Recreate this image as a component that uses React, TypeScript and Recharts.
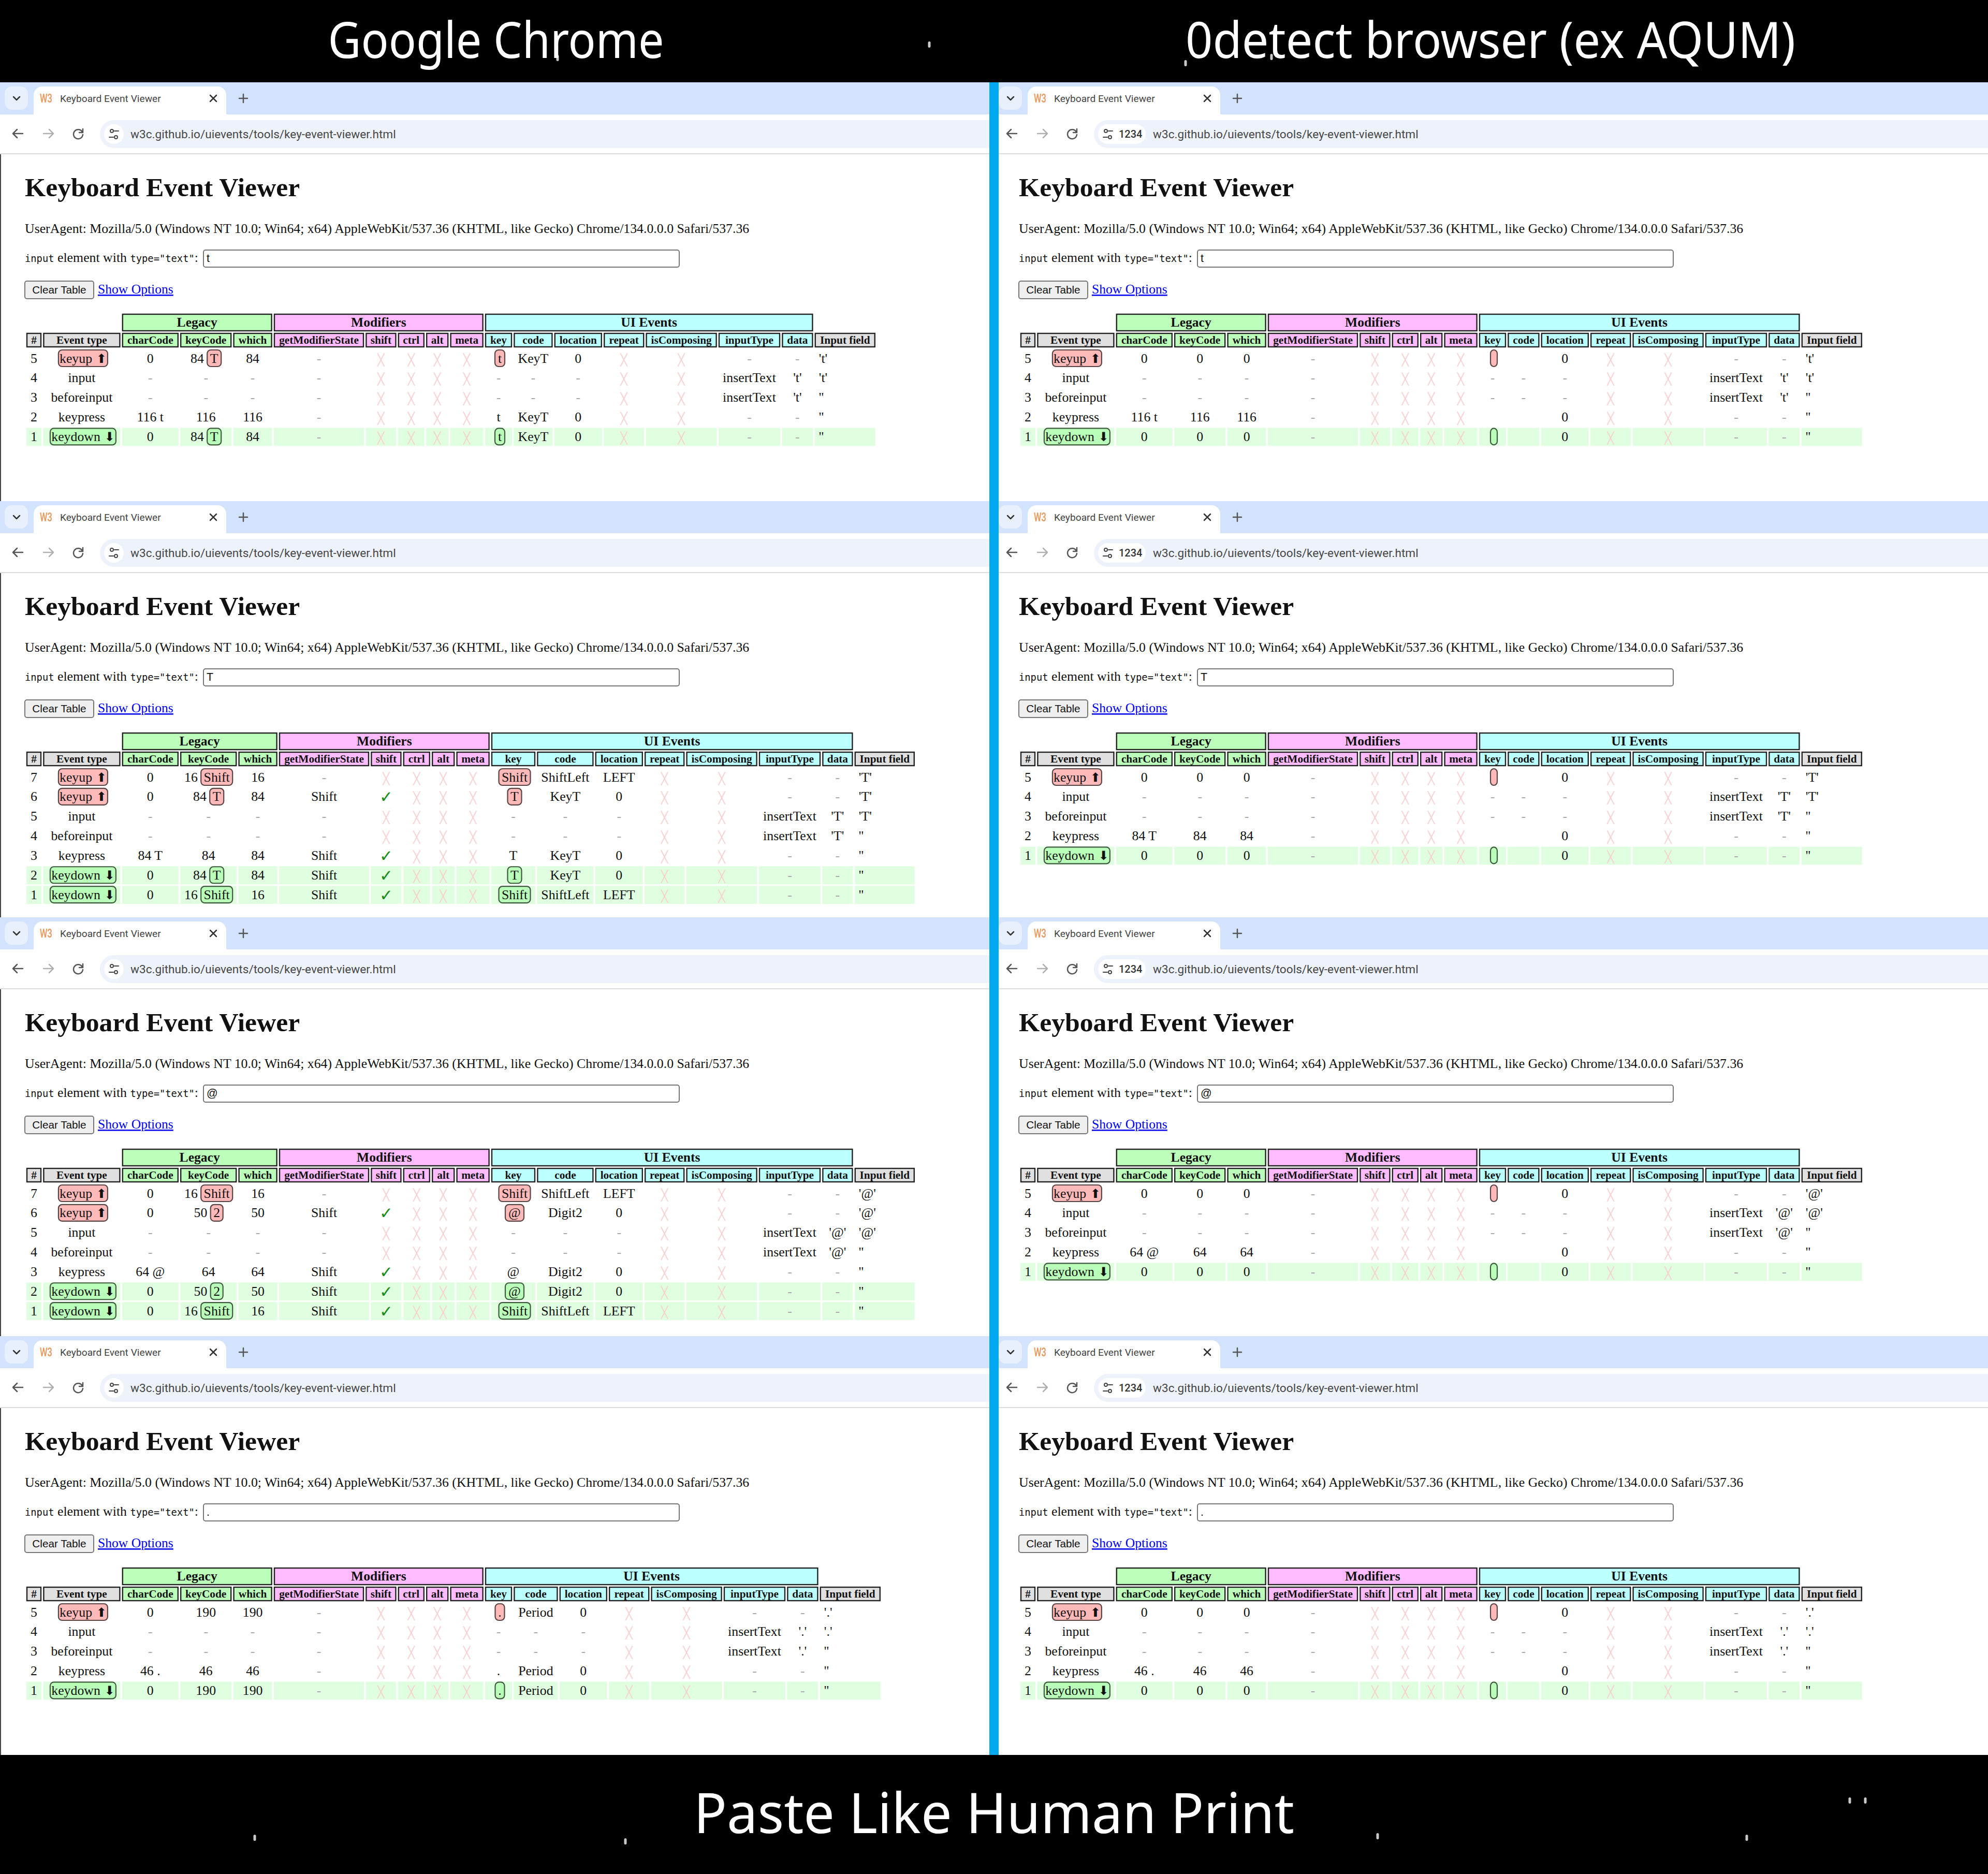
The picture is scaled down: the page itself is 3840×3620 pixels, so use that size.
import React from 'react'
import { ScatterChart, Scatter, XAxis, YAxis } from 'recharts'

// ── Table contents ────────────────────────────────────────────────────────────
// Cells are '|' separated. x = cross, v = tick, [..] = key cap badge.

const groupNames = ['Legacy', 'Modifiers', 'UI Events']
const columnNames = [
  '#', 'Event type', 'charCode', 'keyCode', 'which', 'getModifierState', 'shift', 'ctrl', 'alt', 'meta',
  'key', 'code', 'location', 'repeat', 'isComposing', 'inputType', 'data', 'Input field',
]

const chromeLower = [
  "5|keyup|0|84 [T]|84|-|x|x|x|x|[t]|KeyT|0|x|x|-|-|'t'",
  "4|input|-|-|-|-|x|x|x|x|-|-|-|x|x|insertText|'t'|'t'",
  "3|beforeinput|-|-|-|-|x|x|x|x|-|-|-|x|x|insertText|'t'|''",
  "2|keypress|116 t|116|116|-|x|x|x|x|t|KeyT|0|x|x|-|-|''",
  "1|keydown|0|84 [T]|84|-|x|x|x|x|[t]|KeyT|0|x|x|-|-|''",
]
const chromeUpper = [
  "7|keyup|0|16 [Shift]|16|-|x|x|x|x|[Shift]|ShiftLeft|LEFT|x|x|-|-|'T'",
  "6|keyup|0|84 [T]|84|Shift|v|x|x|x|[T]|KeyT|0|x|x|-|-|'T'",
  "5|input|-|-|-|-|x|x|x|x|-|-|-|x|x|insertText|'T'|'T'",
  "4|beforeinput|-|-|-|-|x|x|x|x|-|-|-|x|x|insertText|'T'|''",
  "3|keypress|84 T|84|84|Shift|v|x|x|x|T|KeyT|0|x|x|-|-|''",
  "2|keydown|0|84 [T]|84|Shift|v|x|x|x|[T]|KeyT|0|x|x|-|-|''",
  "1|keydown|0|16 [Shift]|16|Shift|v|x|x|x|[Shift]|ShiftLeft|LEFT|x|x|-|-|''",
]
const chromeAt = [
  "7|keyup|0|16 [Shift]|16|-|x|x|x|x|[Shift]|ShiftLeft|LEFT|x|x|-|-|'@'",
  "6|keyup|0|50 [2]|50|Shift|v|x|x|x|[@]|Digit2|0|x|x|-|-|'@'",
  "5|input|-|-|-|-|x|x|x|x|-|-|-|x|x|insertText|'@'|'@'",
  "4|beforeinput|-|-|-|-|x|x|x|x|-|-|-|x|x|insertText|'@'|''",
  "3|keypress|64 @|64|64|Shift|v|x|x|x|@|Digit2|0|x|x|-|-|''",
  "2|keydown|0|50 [2]|50|Shift|v|x|x|x|[@]|Digit2|0|x|x|-|-|''",
  "1|keydown|0|16 [Shift]|16|Shift|v|x|x|x|[Shift]|ShiftLeft|LEFT|x|x|-|-|''",
]
const chromePeriod = [
  "5|keyup|0|190|190|-|x|x|x|x|[.]|Period|0|x|x|-|-|'.'",
  "4|input|-|-|-|-|x|x|x|x|-|-|-|x|x|insertText|'.'|'.'",
  "3|beforeinput|-|-|-|-|x|x|x|x|-|-|-|x|x|insertText|'.'|''",
  "2|keypress|46 .|46|46|-|x|x|x|x|.|Period|0|x|x|-|-|''",
  "1|keydown|0|190|190|-|x|x|x|x|[.]|Period|0|x|x|-|-|''",
]
const odetectLower = [
  "5|keyup|0|0|0|-|x|x|x|x|[]||0|x|x|-|-|'t'",
  "4|input|-|-|-|-|x|x|x|x|-|-|-|x|x|insertText|'t'|'t'",
  "3|beforeinput|-|-|-|-|x|x|x|x|-|-|-|x|x|insertText|'t'|''",
  "2|keypress|116 t|116|116|-|x|x|x|x|||0|x|x|-|-|''",
  "1|keydown|0|0|0|-|x|x|x|x|[]||0|x|x|-|-|''",
]
const odetectUpper = [
  "5|keyup|0|0|0|-|x|x|x|x|[]||0|x|x|-|-|'T'",
  "4|input|-|-|-|-|x|x|x|x|-|-|-|x|x|insertText|'T'|'T'",
  "3|beforeinput|-|-|-|-|x|x|x|x|-|-|-|x|x|insertText|'T'|''",
  "2|keypress|84 T|84|84|-|x|x|x|x|||0|x|x|-|-|''",
  "1|keydown|0|0|0|-|x|x|x|x|[]||0|x|x|-|-|''",
]
const odetectAt = [
  "5|keyup|0|0|0|-|x|x|x|x|[]||0|x|x|-|-|'@'",
  "4|input|-|-|-|-|x|x|x|x|-|-|-|x|x|insertText|'@'|'@'",
  "3|beforeinput|-|-|-|-|x|x|x|x|-|-|-|x|x|insertText|'@'|''",
  "2|keypress|64 @|64|64|-|x|x|x|x|||0|x|x|-|-|''",
  "1|keydown|0|0|0|-|x|x|x|x|[]||0|x|x|-|-|''",
]
const odetectPeriod = [
  "5|keyup|0|0|0|-|x|x|x|x|[]||0|x|x|-|-|'.'",
  "4|input|-|-|-|-|x|x|x|x|-|-|-|x|x|insertText|'.'|'.'",
  "3|beforeinput|-|-|-|-|x|x|x|x|-|-|-|x|x|insertText|'.'|''",
  "2|keypress|46 .|46|46|-|x|x|x|x|||0|x|x|-|-|''",
  "1|keydown|0|0|0|-|x|x|x|x|[]||0|x|x|-|-|''",
]

const typedValues = ['t', 'T', '@', '.']
const chromeTables = [chromeLower, chromeUpper, chromeAt, chromePeriod]
const odetectTables = [odetectLower, odetectUpper, odetectAt, odetectPeriod]

const USER_AGENT =
  'UserAgent: Mozilla/5.0 (Windows NT 10.0; Win64; x64) AppleWebKit/537.36 (KHTML, like Gecko) Chrome/134.0.0.0 Safari/537.36'
const PAGE_URL = 'w3c.github.io/uievents/tools/key-event-viewer.html'

// ── Layout ────────────────────────────────────────────────────────────────────

const W = 3840
const H = 3620
const SERIF = '"Liberation Serif", "Times New Roman", serif'
const SANS = 'Roboto, "Noto Sans", sans-serif'
const BANNER = '"Noto Sans", "Open Sans", sans-serif'
const MARK = '"DejaVu Sans", sans-serif'
const BODY_SIZE = 25.8

const PANEL_TOPS = [0, 809, 1613, 2422]
const CELL_GAP = 3.4
const FIRST_ROW_Y = 692.5
const ROW_STEP = 37.85

const WIDTHS_SHORT = [29, 149, 109, 99, 75, 174, 59, 51, 43, 64, 52, 75, 92, 78, 137, 119, 60, 117]
const WIDTHS_SHIFT = [29, 149, 109, 109, 75, 174, 59, 52, 44, 64, 85, 109, 92, 77, 137, 119, 59, 116]
const WIDTHS_PERIOD = [29, 149, 109, 99, 75, 174, 59, 51, 43, 64, 52, 85, 92, 78, 137, 119, 60, 117]
const WIDTHS_BLANK = [29, 149, 109, 99, 75, 174, 59, 51, 43, 64, 52, 61, 92, 78, 137, 119, 60, 117]
const CHROME_WIDTHS = [WIDTHS_SHORT, WIDTHS_SHIFT, WIDTHS_SHIFT, WIDTHS_PERIOD]

const GROUP_SPANS = [[2, 4], [5, 9], [10, 16]]
const GROUP_FILLS = ['#bbffbb', '#ffbbff', '#bbffff']
const COLUMN_FILLS = [
  '#e0e0e0', '#e0e0e0', '#bbffbb', '#bbffbb', '#bbffbb', '#ffbbff', '#ffbbff', '#ffbbff', '#ffbbff', '#ffbbff',
  '#bbffff', '#bbffff', '#bbffff', '#bbffff', '#bbffff', '#bbffff', '#bbffff', '#e0e0e0',
]
const BADGE_WIDTHS: Record<string, number> = { T: 27, t: 19, Shift: 61, '2': 24, '@': 36, '.': 18, '': 13, keyup: 95, keydown: 127 }
const SPECKS = [[1795, 86], [1077, 112], [2290, 122], [2456, 110], [492, 3550], [1208, 3557], [2661, 3547], [3374, 3550], [3573, 3478], [3603, 3478]]

// ── Marks: everything below becomes a Scatter point placed by the axes ────────

const boxes: any[] = []
const icons: any[] = []
const labels: any[] = []

function box(x0: number, y0: number, x1: number, y1: number, fill: string, extra: any = {}) {
  boxes.push({ x: (x0 + x1) / 2, y: (y0 + y1) / 2, w: x1 - x0, h: y1 - y0, fill, ...extra })
}
function label(x: number, y: number, text: any, extra: any = {}) {
  labels.push({ x, y, text, ...extra })
}
function icon(x: number, y: number, d: string, stroke: string, sw = 2.5) {
  icons.push({ x, y, d, stroke, sw })
}

function addBrowser(ox: number, dy: number, bottom: number, isOdetect: boolean, typed: string) {
  const top = 159 + dy
  const right = isOdetect ? W : 1911
  box(ox, top, right, top + 62, '#d3e3fd')
  box(ox + 9, top + 8, ox + 54, top + 53, '#e8f0fe', { r: 14 })
  box(ox + 65, top + 8, ox + 437, top + 80, '#ffffff', { r: 17 })
  box(ox, top + 62, right, top + 138, '#ffffff')
  box(ox, top + 137, right, top + 139, '#dcdcdc')
  box(ox + 193, top + 73, right + 30, top + 127, '#edf2fb', { r: 27 })
  if (isOdetect) box(ox + 201, top + 81, ox + 293, top + 119, '#ffffff', { r: 19 })
  else box(ox + 201, top + 81, ox + 239, top + 119, '#ffffff', { r: 19 })
  if (!isOdetect) box(0, top + 139, 2, bottom, '#444444')

  icon(ox + 32, top + 31, 'M-6,-3L0,3L6,-3', '#333333')
  icon(ox + 412, top + 31, 'M-6,-6L6,6M6,-6L-6,6', '#333333')
  icon(ox + 470, top + 31, 'M-8,0H8M0,-8V8', '#555555')
  icon(ox + 35, top + 99, 'M9,0H-9M-2,-8L-10,0L-2,8', '#555555')
  icon(ox + 93, top + 99, 'M-9,0H9M2,-8L10,0L2,8', '#b0b0b0')
  icon(ox + 151, top + 99, 'M8,-3A9,9 0 1 0 9,2M9,-9V-2H2', '#555555')
  icon(ox + 220, top + 100, 'M1,-6H9M-9,6H-1M-7,-6a3,3 0 1 0 6,0a3,3 0 1 0 -6,0M1,6a3,3 0 1 0 6,0a3,3 0 1 0 -6,0', '#444444', 2)

  label(ox + 77, top + 39, 'W3', { size: 24, family: SANS, fill: '#e8975a', weight: 500, len: 24 })
  label(ox + 116, top + 38, 'Keyboard Event Viewer', { size: 19.2, family: SANS, fill: '#444444' })
  if (isOdetect) label(ox + 241, top + 107, '1234', { size: 20, family: SANS, fill: '#333333', weight: 500 })
  label(ox + (isOdetect ? 307 : 252), top + 108, PAGE_URL, { size: 22.6, family: SANS, fill: '#474747' })

  label(ox + 48, 379 + dy, 'Keyboard Event Viewer', { size: 51.7, weight: 700 })
  label(ox + 48, 450 + dy, USER_AGENT, { size: BODY_SIZE })
  label(ox + 48, 506 + dy, [
    ['input', 'mono'], [' element with ', 'serif'], ['type="text"', 'mono'], [':', 'serif'],
  ], { size: BODY_SIZE })
  box(ox + 393, 483 + dy, ox + 1312, 516 + dy, '#ffffff', { r: 4, stroke: '#767676', sw: 2 })
  label(ox + 399, 506 + dy, typed, { size: 21.3, family: '"Liberation Sans", Arial, sans-serif' })
  box(ox + 48, 543 + dy, ox + 181, 577 + dy, '#efefef', { r: 4, stroke: '#767676', sw: 2 })
  label(ox + 114.5, 567 + dy, 'Clear Table', { size: 20.7, family: '"Liberation Sans", Arial, sans-serif', anchor: 'middle' })
  label(ox + 189, 567 + dy, 'Show Options', { size: 25.6, fill: '#0000ee', deco: 'underline' })
}

function addBadge(cx: number, y: number, w: number, isUp: boolean) {
  box(cx - w / 2, y - 16.5, cx + w / 2, y + 15.5, isUp ? '#ffb9b9' : '#b9ffb9', {
    r: 7, stroke: isUp ? '#5a4545' : '#3f5a3f', sw: 2.2,
  })
}

function addCell(raw: string, col: number, x0: number, w: number, y: number, isUp: boolean) {
  const cx = x0 + w / 2
  if (col === 17) {
    label(x0 + 8, y + 8, raw, { size: BODY_SIZE })
  } else if (col === 1 && (raw === 'keyup' || raw === 'keydown')) {
    const bw = BADGE_WIDTHS[raw]
    addBadge(cx + 2.5, y, bw, isUp)
    label(cx + 2.5, y + 8, [[raw, 'serif'], [raw === 'keyup' ? ' \u2B06' : ' \u2B07', 'mark']], { size: BODY_SIZE, anchor: 'middle' })
  } else if (raw === 'x') {
    label(cx, y + 10, '\u2573', { size: 22, family: '"DejaVu Sans Mono", monospace', fill: '#f8cfcf', anchor: 'middle' })
  } else if (raw === 'v') {
    label(cx, y + 11, '\u2713', { size: 31, family: MARK, fill: '#1c8c1c', anchor: 'middle' })
  } else if (raw === '-') {
    label(cx, y + 8, '-', { size: BODY_SIZE, fill: '#a8a8a8', anchor: 'middle' })
  } else {
    const m = raw.match(/^(\S*?)\s*\[(.*)\]$/)
    if (m) {
      const pw = m[1].length * 12.8
      const bw = BADGE_WIDTHS[m[2]]
      const gap = m[1] ? 6.4 : 0
      const start = cx - (pw + gap + bw) / 2 + (m[1] ? 0 : 2.5)
      if (m[1]) label(start + pw / 2, y + 8, m[1], { size: BODY_SIZE, anchor: 'middle' })
      addBadge(start + pw + gap + bw / 2, y, bw, isUp)
      label(start + pw + gap + bw / 2, y + 8, m[2], { size: BODY_SIZE, anchor: 'middle' })
    } else if (raw) {
      label(cx, y + 8, raw, { size: BODY_SIZE, anchor: 'middle' })
    }
  }
}

function addTable(ox: number, dy: number, rows: string[], widths: number[]) {
  const starts: number[] = []
  let cursor = ox + 51
  widths.forEach((w) => {
    starts.push(cursor)
    cursor += w + CELL_GAP
  })
  groupNames.forEach((name, i) => {
    const [a, b] = GROUP_SPANS[i]
    const x0 = starts[a]
    const x1 = starts[b] + widths[b]
    box(x0 + 1, 607 + dy, x1 - 1, 639 + dy, GROUP_FILLS[i], { stroke: '#222222', sw: 2.4 })
    label((x0 + x1) / 2, 631 + dy, name, { size: 25.6, weight: 700, anchor: 'middle' })
  })
  columnNames.forEach((name, c) => {
    box(starts[c] + 1, 644 + dy, starts[c] + widths[c] - 1, 670 + dy, COLUMN_FILLS[c], { stroke: '#222222', sw: 2.4 })
    label(starts[c] + widths[c] / 2, 664 + dy, name, { size: 21.3, weight: 700, anchor: 'middle' })
  })
  rows.forEach((row, r) => {
    const cells = row.split('|')
    const y = FIRST_ROW_Y + r * ROW_STEP + dy
    const isDown = cells[1] === 'keydown'
    cells.forEach((raw, c) => {
      if (isDown) box(starts[c], y - 17.5, starts[c] + widths[c], y + 17.5, '#e0ffe0')
      addCell(raw, c, starts[c], widths[c], y, cells[1] === 'keyup')
    })
  })
}

// page frame first so that it sits under the panels
box(0, 0, W, H, '#ffffff')
box(0, 0, W, 159, '#000000')
box(0, 3390, W, H, '#000000')

PANEL_TOPS.forEach((dy, i) => {
  const bottom = i < 3 ? 159 + PANEL_TOPS[i + 1] : 3390
  addBrowser(0, dy, bottom, false, typedValues[i])
  addBrowser(1920, dy, bottom, true, typedValues[i])
  addTable(0, dy, chromeTables[i], CHROME_WIDTHS[i])
  addTable(1920, dy, odetectTables[i], WIDTHS_BLANK)
})
// the address bars run past the panel edge, so the frame goes back on top of them
box(1911, 159, 1929, 3390, '#00a9f0')

SPECKS.forEach(([x, y]) => box(x - 2.5, y - 6, x + 2.5, y + 6, '#c8c8c8', { r: 2.5 }))

label(958, 112, 'Google Chrome', { size: 96, family: BANNER, fill: '#ffffff', anchor: 'middle', len: 649 })
label(2879, 112, '0detect browser (ex AQUM)', { size: 96, family: BANNER, fill: '#ffffff', anchor: 'middle', len: 1178 })
label(1920, 3541, 'Paste Like Human Print', { size: 108, family: BANNER, fill: '#ffffff', anchor: 'middle', len: 1160 })

// ── Shapes ────────────────────────────────────────────────────────────────────

const BoxShape = ({ cx, cy, payload: b }: any) => (
  <rect x={cx - b.w / 2} y={cy - b.h / 2} width={b.w} height={b.h} rx={b.r || 0} fill={b.fill} stroke={b.stroke || 'none'} strokeWidth={b.sw || 0} />
)

const IconShape = ({ cx, cy, payload: p }: any) => (
  <path transform={`translate(${cx} ${cy})`} d={p.d} fill="none" stroke={p.stroke} strokeWidth={p.sw} strokeLinecap="round" strokeLinejoin="round" />
)

const spanFonts: any = {
  serif: { fontFamily: SERIF },
  mono: { fontFamily: '"DejaVu Sans Mono", monospace', fontSize: 18.8 },
  mark: { fontFamily: MARK, fontSize: 24 },
}

const LabelShape = ({ cx, cy, payload: t }: any) => (
  <text
    x={cx}
    y={cy}
    fontFamily={t.family || SERIF}
    fontSize={t.size}
    fontWeight={t.weight || 400}
    fill={t.fill || '#111111'}
    textAnchor={t.anchor || 'start'}
    textDecoration={t.deco}
    textLength={t.len}
    lengthAdjust={t.len ? 'spacingAndGlyphs' : undefined}
    xmlSpace="preserve"
    style={{ whiteSpace: 'pre' }}
  >
    {Array.isArray(t.text)
      ? t.text.map(([s, f]: string[], i: number) => (
          <tspan key={i} {...spanFonts[f]}>
            {s}
          </tspan>
        ))
      : t.text}
  </text>
)

export default function App() {
  return (
    <div style={{ position: 'absolute', left: 0, top: 0, width: W, height: H, overflow: 'hidden' }}>
      <ScatterChart width={W} height={H} margin={{ top: 0, right: 0, bottom: 0, left: 0 }}>
        <XAxis type="number" dataKey="x" domain={[0, W]} allowDataOverflow hide />
        <YAxis type="number" dataKey="y" domain={[0, H]} allowDataOverflow reversed hide />
        <Scatter data={boxes} shape={BoxShape} isAnimationActive={false} />
        <Scatter data={icons} shape={IconShape} isAnimationActive={false} />
        <Scatter data={labels} shape={LabelShape} isAnimationActive={false} />
      </ScatterChart>
    </div>
  )
}
